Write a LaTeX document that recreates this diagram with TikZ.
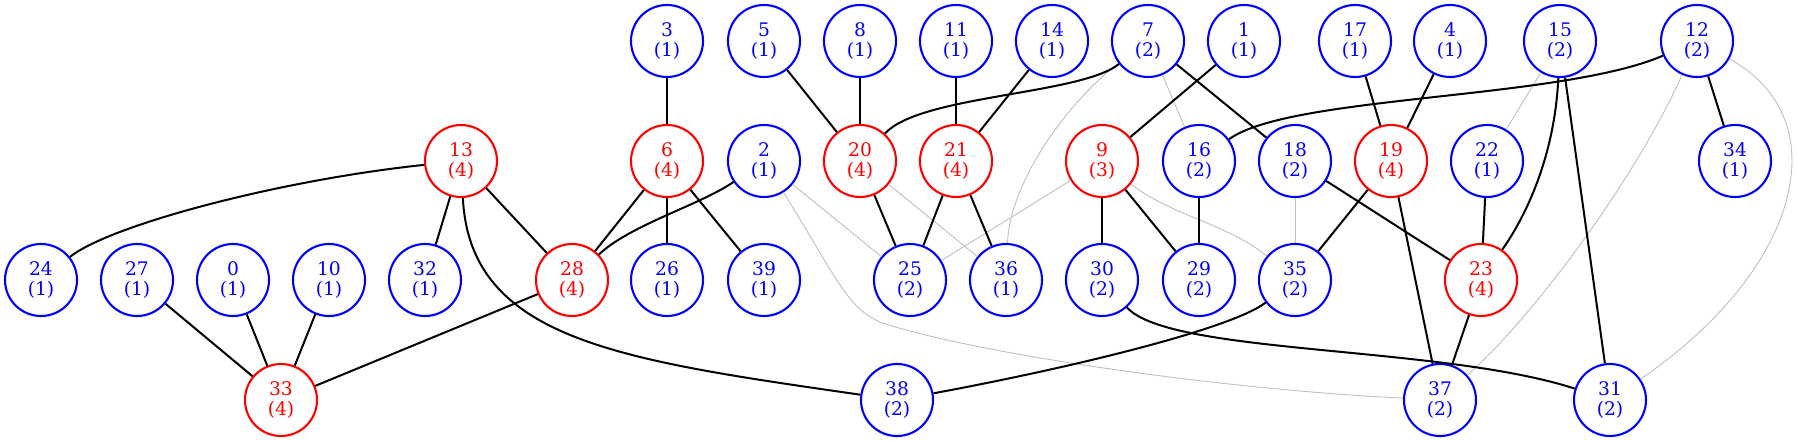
\documentclass[tikz,border=0pt]{standalone}
\usepackage{fontspec}
\setmainfont{DejaVu Serif}
\begin{document}
\begin{tikzpicture}[x=1pt,y=-1pt,
  vb/.style={circle,draw=blue,text=blue,line width=2.1pt,minimum size=72pt,inner sep=0pt,align=center,font=\fontsize{18.7}{20}\selectfont},
  vr/.style={vb,draw=red,text=red},
  eb/.style={line width=2pt,black},
  eg/.style={line width=0.9pt,color=black!25}]
\useasboundingbox (0,0) rectangle (1797,441);
% row 1
\node[vb] (n3) at (667,41) {3\\(1)};
\node[vb] (n5) at (764,41) {5\\(1)};
\node[vb] (n8) at (860,41) {8\\(1)};
\node[vb] (n11) at (956,41) {11\\(1)};
\node[vb] (n14) at (1052,41) {14\\(1)};
\node[vb] (n7) at (1148,41) {7\\(2)};
\node[vb] (n1) at (1244,41) {1\\(1)};
\node[vb] (n17) at (1355,41) {17\\(1)};
\node[vb] (n4) at (1450,41) {4\\(1)};
\node[vb] (n15) at (1560,41) {15\\(2)};
\node[vb] (n12) at (1697,41) {12\\(2)};
% row 2
\node[vr] (n13) at (461,161) {13\\(4)};
\node[vr] (n6) at (667,161) {6\\(4)};
\node[vb] (n2) at (764,161) {2\\(1)};
\node[vr] (n20) at (860,161) {20\\(4)};
\node[vr] (n21) at (956,161) {21\\(4)};
\node[vr] (n9) at (1102,161) {9\\(3)};
\node[vb] (n16) at (1199,161) {16\\(2)};
\node[vb] (n18) at (1295,161) {18\\(2)};
\node[vr] (n19) at (1391,161) {19\\(4)};
\node[vb] (n22) at (1487,161) {22\\(1)};
\node[vb] (n34) at (1735,161) {34\\(1)};
% row 3
\node[vb] (n24) at (41,280) {24\\(1)};
\node[vb] (n27) at (137,280) {27\\(1)};
\node[vb] (n0) at (233,280) {0\\(1)};
\node[vb] (n10) at (329,280) {10\\(1)};
\node[vb] (n32) at (425,280) {32\\(1)};
\node[vr] (n28) at (572,280) {28\\(4)};
\node[vb] (n26) at (667,280) {26\\(1)};
\node[vb] (n39) at (764,280) {39\\(1)};
\node[vb] (n25) at (910,280) {25\\(2)};
\node[vb] (n36) at (1006,280) {36\\(1)};
\node[vb] (n30) at (1102,280) {30\\(2)};
\node[vb] (n29) at (1199,280) {29\\(2)};
\node[vb] (n35) at (1295,280) {35\\(2)};
\node[vr] (n23) at (1481,280) {23\\(4)};
% row 4
\node[vr] (n33) at (281,400) {33\\(4)};
\node[vb] (n38) at (897,400) {38\\(2)};
\node[vb] (n37) at (1440,400) {37\\(2)};
\node[vb] (n31) at (1610,400) {31\\(2)};
\coordinate (k237) at (880,322);
% grey edges
\draw[eg] (n2) -- (n25);
\draw[eg] (n20) -- (n36);
\draw[eg] (n7) -- (n16);
\draw[eg] (n9) -- (n25);
\draw[eg] (n18) -- (n35);
\draw[eg] (n15) -- (n22);
\draw[eg] (n2) .. controls (835,275) and (847,308) .. (k237) .. controls (960,350) and (1200,388) .. (n37);
\draw[eg] (n7) .. controls (1070,100) and (1010,180) .. (n36);
\draw[eg] (n9) .. controls (1170,215) and (1230,225) .. (n35);
\draw[eg] (n12) .. controls (1640,170) and (1540,310) .. (n37);
\draw[eg] (n12) .. controls (1840,120) and (1800,270) .. (n31);
% black edges
\draw[eb] (n13) .. controls (280,180) and (110,225) .. (n24);
\draw[eb] (n13) -- (n32);
\draw[eb] (n13) -- (n28);
\draw[eb] (n13) .. controls (470,340) and (620,360) .. (n38);
\draw[eb] (n27) -- (n33);
\draw[eb] (n0) -- (n33);
\draw[eb] (n10) -- (n33);
\draw[eb] (n28) -- (n33);
\draw[eb] (n3) -- (n6);
\draw[eb] (n6) -- (n28);
\draw[eb] (n6) -- (n26);
\draw[eb] (n6) -- (n39);
\draw[eb] (n2) .. controls (700,205) and (630,225) .. (n28);
\draw[eb] (n5) -- (n20);
\draw[eb] (n8) -- (n20);
\draw[eb] (n7) .. controls (1080,95) and (920,95) .. (n20);
\draw[eb] (n11) -- (n21);
\draw[eb] (n14) -- (n21);
\draw[eb] (n20) -- (n25);
\draw[eb] (n21) -- (n25);
\draw[eb] (n21) -- (n36);
\draw[eb] (n1) -- (n9);
\draw[eb] (n7) -- (n18);
\draw[eb] (n9) -- (n30);
\draw[eb] (n9) -- (n29);
\draw[eb] (n16) -- (n29);
\draw[eb] (n12) .. controls (1560,100) and (1290,95) .. (n16);
\draw[eb] (n17) -- (n19);
\draw[eb] (n4) -- (n19);
\draw[eb] (n19) -- (n35);
\draw[eb] (n19) -- (n37);
\draw[eb] (n18) -- (n23);
\draw[eb] (n22) -- (n23);
\draw[eb] (n15) .. controls (1555,150) and (1530,210) .. (n23);
\draw[eb] (n15) -- (n31);
\draw[eb] (n12) -- (n34);
\draw[eb] (n23) -- (n37);
\draw[eb] (n30) .. controls (1170,355) and (1440,345) .. (n31);
\draw[eb] (n35) .. controls (1230,330) and (1060,370) .. (n38);
\end{tikzpicture}
\end{document}
